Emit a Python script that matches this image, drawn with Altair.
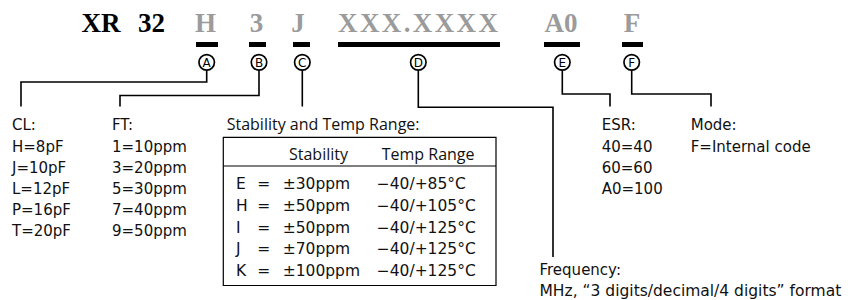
import altair as alt
import pandas as pd

# ---------------- content (text values) ----------------
code_tokens = ["XR", "32", "H", "3", "J", "XXX.XXXX", "A0", "F"]
code_fixed = [True, True, False, False, False, False, False, False]
marker_letters = ["A", "B", "C", "D", "E", "F"]

cl_title = "CL:"
cl_items = ["H=8pF", "J=10pF", "L=12pF", "P=16pF", "T=20pF"]
ft_title = "FT:"
ft_items = ["1=10ppm", "3=20ppm", "5=30ppm", "7=40ppm", "9=50ppm"]
stab_title = "Stability and Temp Range:"
stab_headers = ["Stability", "Temp Range"]
stab_codes = ["E", "H", "I", "J", "K"]
stab_values = ["±30ppm", "±50ppm", "±50ppm", "±70ppm", "±100ppm"]
temp_ranges = ["−40/+85°C", "−40/+105°C", "−40/+125°C", "−40/+125°C", "−40/+125°C"]
esr_title = "ESR:"
esr_items = ["40=40", "60=60", "A0=100"]
mode_title = "Mode:"
mode_items = ["F=Internal code"]
freq_title = "Frequency:"
freq_desc = "MHz, \u201c3 digits/decimal/4 digits\u201d format"

# ---------------- layout (page pixel coordinates) ----------------
code_x = [81.5, 138, 205.5, 256.5, 298, 338, 561, 632]
code_align = ["left", "left", "center", "center", "center", "left", "center", "center"]
code_spread = [0, 0, 0, 0, 0, 2.4, 0, 0]   # extra letter spacing (px)
code_size = 27
code_base = 32
glyph_w = {"X": 0.722, ".": 0.25}
bar_x1 = [196, 249, 293, 338, 544, 622]
bar_x2 = [218, 266, 310, 500, 580, 643]
bar_y1, bar_y2 = 42, 47
marker_x = [206.7, 259, 302.3, 418.3, 562.3, 631.7]
marker_y = 62.3
ring_outer, ring_inner = 8.6, 6.9
leaders = [
    [(206.7, 70.5), (206.7, 82), (21, 82), (21, 106.5)],
    [(259, 70.5), (259, 95.5), (120, 95.5), (120, 106.5)],
    [(302.3, 70.5), (302.3, 106.5)],
    [(418.3, 70.5), (418.3, 107.3), (553, 107.3), (553, 257)],
    [(562.3, 70.5), (562.3, 94), (610, 94), (610, 106.5)],
    [(631.7, 70.5), (631.7, 94), (711, 94), (711, 106.5)],
]
title_base = 129.5
row_base0, row_step = 152, 21
cl_x, ft_x, esr_x, mode_x = 12, 112, 601.7, 690.7
tab_x = 226.7
box = (223.3, 137.3, 496, 285.5)
sep_y = 166
head_base = 159.5
head_x = [289, 381.7]
trow_base0, trow_step = 189, 21.75
tcode_x, teq_x, tval_x, ttemp_x = 236, 263.8, 282.7, 376.7
freq_x, freq_base, desc_base = 539.5, 275, 296

W, H = 840, 292
XS = alt.Scale(domain=[8, 8 + W], nice=False, zero=False)
YS = alt.Scale(domain=[8, 8 + H], nice=False, zero=False, reverse=True)

BODY = "DejaVu Sans"
HEAD = "Open Sans"
GRAY = "#9b9b9b"
BODY_SIZE = 15
TABLE_SIZE = 15.5
HEAD_SIZE = 16


def xq(f="x"):
    return alt.X(f"{f}:Q", scale=XS, axis=None)


def yq(f="y"):
    return alt.Y(f"{f}:Q", scale=YS, axis=None)


def text_layer(rows, font, size, color="#111111", align="left", weight="normal"):
    df = pd.DataFrame(rows, columns=["x", "y", "t"])
    return alt.Chart(df).mark_text(
        align=align, baseline="alphabetic", font=font, fontSize=size,
        color=color, fontWeight=weight
    ).encode(x=xq(), y=yq(), text="t:N")


layers = []

# code tokens
for tok, fixed, x, al, sp in zip(code_tokens, code_fixed, code_x, code_align, code_spread):
    col = "#000000" if fixed else GRAY
    if sp == 0:
        layers.append(text_layer([(x, code_base, tok)], "Liberation Serif", code_size,
                                 color=col, align=al, weight="bold"))
    else:
        rows = []
        cx = x
        for ch in tok:
            rows.append((cx, code_base, ch))
            cx += glyph_w.get(ch, 0.722) * code_size + sp
        layers.append(text_layer(rows, "Liberation Serif", code_size,
                                 color=col, align="left", weight="bold"))

# bars
bars = pd.DataFrame({"x": bar_x1, "x2": bar_x2, "y": [bar_y1] * 6, "y2": [bar_y2] * 6})
layers.append(alt.Chart(bars).mark_rect(color="#000000").encode(
    x=xq(), x2="x2:Q", y=yq(), y2="y2:Q"))

# leader lines
lrows = []
for gi, pts in enumerate(leaders):
    for i, (x, y) in enumerate(pts):
        lrows.append({"g": gi, "i": i, "x": x, "y": y})
layers.append(alt.Chart(pd.DataFrame(lrows)).mark_line(
    color="#000000", strokeWidth=1.6, strokeJoin="miter").encode(
    x=xq(), y=yq(), detail="g:N", order="i:Q"))

# marker circles: black annulus
mk = pd.DataFrame({"x": marker_x, "y": [marker_y] * 6, "t": marker_letters})
layers.append(alt.Chart(mk).mark_arc(
    radius=ring_outer, radius2=ring_inner, theta=0, theta2=6.2832,
    color="#000000", fill="#000000", opacity=1
).encode(x=xq(), y=yq()))
layers.append(alt.Chart(mk).mark_text(
    align="center", baseline="middle", font=BODY, fontSize=12, color="#000000", dy=0.5
).encode(x=xq(), y=yq(), text="t:N"))

# titles
layers.append(text_layer([(cl_x, title_base, cl_title), (ft_x, title_base, ft_title),
                          (esr_x, title_base, esr_title), (mode_x, title_base, mode_title),
                          (freq_x, freq_base, freq_title)], BODY, BODY_SIZE))
layers.append(text_layer([(tab_x, title_base, stab_title)], HEAD, HEAD_SIZE))

# lists
rows = []
for i, t in enumerate(cl_items):
    rows.append((cl_x, row_base0 + i * row_step, t))
for i, t in enumerate(ft_items):
    rows.append((ft_x, row_base0 + i * row_step, t))
for i, t in enumerate(esr_items):
    rows.append((esr_x, row_base0 + i * row_step, t))
for i, t in enumerate(mode_items):
    rows.append((mode_x, row_base0 + i * row_step, t))
layers.append(text_layer(rows, BODY, BODY_SIZE))
layers.append(text_layer([(freq_x, desc_base, freq_desc)], BODY, 15.5))

# table box and separator
bx = pd.DataFrame({"x": [box[0]], "x2": [box[2]], "y": [box[1]], "y2": [box[3]]})
layers.append(alt.Chart(bx).mark_rect(fill=None, stroke="#000000", strokeWidth=1.2).encode(
    x=xq(), x2="x2:Q", y=yq(), y2="y2:Q"))
spdf = pd.DataFrame({"x": [box[0]], "x2": [box[2]], "y": [sep_y]})
layers.append(alt.Chart(spdf).mark_rule(color="#000000", strokeWidth=1.2).encode(
    x=xq(), x2="x2:Q", y=yq()))

# table header and rows
layers.append(text_layer([(head_x[0], head_base, stab_headers[0]),
                          (head_x[1], head_base, stab_headers[1])], HEAD, HEAD_SIZE))
trows = []
for i in range(len(stab_codes)):
    yb = trow_base0 + i * trow_step
    trows.append((tcode_x, yb, stab_codes[i]))
    trows.append((tval_x, yb, stab_values[i]))
    trows.append((ttemp_x, yb, temp_ranges[i]))
layers.append(text_layer(trows, BODY, TABLE_SIZE))
layers.append(text_layer([(teq_x, trow_base0 + i * trow_step, "=") for i in range(len(stab_codes))],
                         BODY, TABLE_SIZE, align="center"))

chart = alt.layer(*layers).properties(
    width=W, height=H, padding=0, autosize=alt.AutoSizeParams(type="none"),
    background="#ffffff"
).configure_view(stroke=None)

chart.save("out.html", embed_options={"renderer": "svg", "actions": False})
